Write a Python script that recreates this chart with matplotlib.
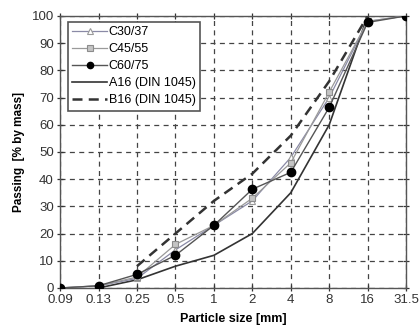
import numpy as np
import matplotlib.pyplot as plt

plt.rcParams['font.family'] = ['Liberation Sans', 'DejaVu Sans']

sizes = ["0.09", "0.13", "0.25", "0.5", "1", "2", "4", "8", "16", "31.5"]

# passing [% by mass] per sieve size
c30_37 = [0, 0.8, 3.5, 14, 23, 32, 48, 70, 98, 100]
c45_55 = [0, 0.8, 4, 16, 23, 33, 46, 72, 98, 100]
c60_75 = [0, 0.8, 5, 12, 23, 36.3, 42.5, 66.4, 97.6, 100]

# DIN 1045 grading curves (from 0.13 mm upward)
a16 = [0, 3, 8, 12, 20, 35, 60, 100]
b16 = [8, 20, 32, 42, 56, 76, 100]

x = np.arange(len(sizes))

fig = plt.figure(figsize=(4.2, 3.31), dpi=100)
ax = fig.add_axes([0.143, 0.130, 0.824, 0.822])

ax.plot(x, c30_37, color='#8a8aa6', lw=0.9, marker='^', ms=5,
        mfc='white', mec='#9a9a9a', mew=0.8, label='C30/37', zorder=4)
ax.plot(x, c45_55, color='#9a9a9a', lw=0.9, marker='s', ms=5,
        mfc='#c4c4c4', mec='#8c8c8c', mew=0.8, label='C45/55', zorder=4)
ax.plot(x, c60_75, color='#555555', lw=1.0, marker='o', ms=6,
        mfc='black', mec='black', label='C60/75', zorder=5)
ax.plot(x[1:9], a16, color='#333333', lw=1.2, label='A16 (DIN 1045)', zorder=3)
ax.plot(x[2:9], b16, color='#333333', lw=1.8, ls=(0, (4, 2.5)),
        label='B16 (DIN 1045)', zorder=3)

ax.set_xlim(0, 9)
ax.set_ylim(0, 100)
ax.set_xticks(x)
ax.set_xticklabels(sizes)
ax.set_yticks(np.arange(0, 101, 10))
ax.tick_params(labelsize=9.5, direction='inout', length=5, width=0.9,
               colors='#333333', top=True, right=True, pad=2)
ax.grid(True, color='#444444', ls=(0, (4, 3.5)), lw=0.9)
ax.set_axisbelow(True)
for s in ax.spines.values():
    s.set_color('#555555')
    s.set_linewidth(1.0)

ax.set_xlabel('Particle size [mm]', fontsize=9, fontweight='bold', labelpad=5)
ax.set_ylabel('Passing  [% by mass]', fontsize=8.5, fontweight='bold', labelpad=5)

leg = ax.legend(loc='upper left', bbox_to_anchor=(0.023, 0.978), fontsize=9,
                frameon=True, fancybox=False, framealpha=1, handlelength=2.8,
                borderpad=0.35, labelspacing=0.4, handletextpad=0.1,
                borderaxespad=0, markerscale=0.75)
leg.get_frame().set_edgecolor('#555555')
leg.get_frame().set_linewidth(1.2)

fig.savefig('out.png', dpi=100)
